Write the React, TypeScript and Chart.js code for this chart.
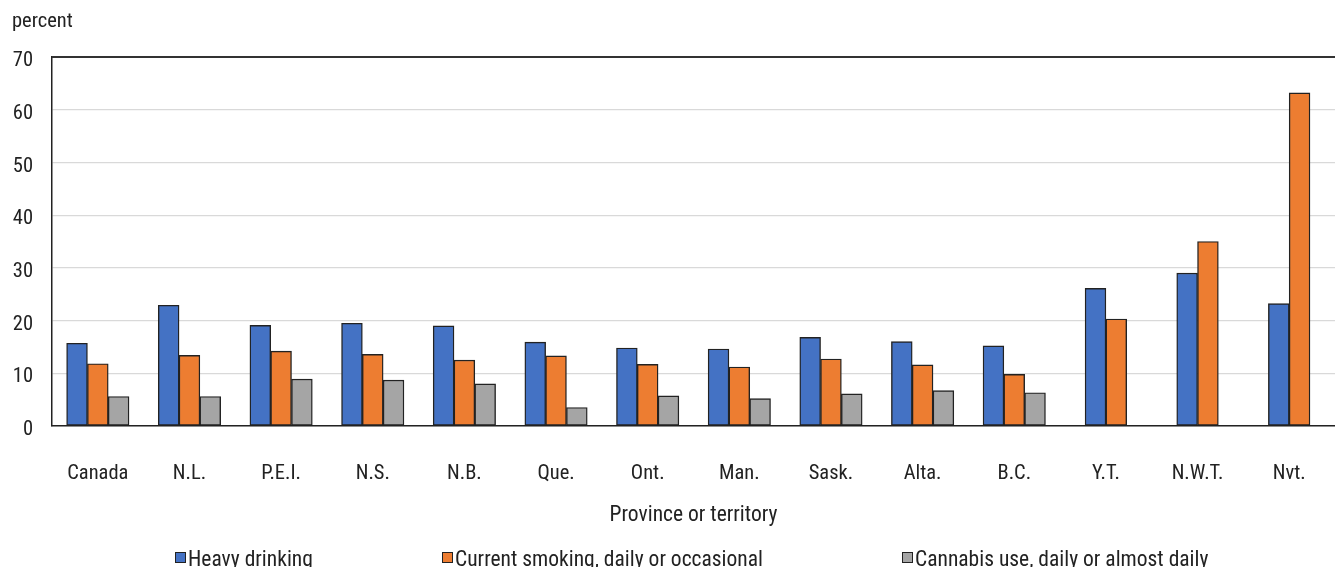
import React, { useEffect, useRef } from "react";
import { Chart, registerables } from "chart.js";

Chart.register(...registerables);

const categories = ["Canada", "N.L.", "P.E.I.", "N.S.", "N.B.", "Que.", "Ont.", "Man.", "Sask.", "Alta.", "B.C.", "Y.T.", "N.W.T.", "Nvt."];
const heavyDrinking = [15.7, 22.9, 19.1, 19.5, 19.0, 15.9, 14.8, 14.6, 16.8, 16.0, 15.2, 26.1, 29.0, 23.2];
const currentSmoking = [11.8, 13.4, 14.2, 13.6, 12.5, 13.3, 11.7, 11.2, 12.7, 11.6, 9.8, 20.3, 35.0, 63.2];
const cannabisUse: (number | null)[] = [5.6, 5.6, 8.9, 8.7, 8.0, 3.5, 5.7, 5.2, 6.1, 6.7, 6.3, null, null, null];
const seriesNames = ["Heavy drinking", "Current smoking, daily or occasional", "Cannabis use, daily or almost daily"];
const seriesColors = ["#4472C4", "#ED7D31", "#A5A5A5"];
const yTicks = [0, 10, 20, 30, 40, 50, 60, 70];
const yAxisUnit = "percent";
const xAxisTitle = "Province or territory";

const FONT = "'Liberation Sans Narrow', 'Roboto Condensed', 'DejaVu Sans Condensed', sans-serif";
const TEXT = "#222222";

const decorPlugin = {
  id: "decor",
  afterDraw(chart: any) {
    const ctx = chart.ctx;
    const area = chart.chartArea;
    ctx.save();
    // top border
    ctx.strokeStyle = "#333333";
    ctx.lineWidth = 2;
    ctx.beginPath();
    ctx.moveTo(area.left, area.top);
    ctx.lineTo(area.right, area.top);
    ctx.stroke();
    ctx.fillStyle = TEXT;
    ctx.font = `20.5px ${FONT}`;
    ctx.textBaseline = "middle";
    ctx.textAlign = "left";
    ctx.fillText(yAxisUnit, 12, 22);
    ctx.font = `21.5px ${FONT}`;
    ctx.textAlign = "center";
    ctx.fillText(xAxisTitle, (area.left + area.right) / 2, 516);
    // legend
    const legendX = [175, 442, 902];
    seriesNames.forEach((name, i) => {
      const x = legendX[i];
      ctx.fillStyle = seriesColors[i];
      ctx.fillRect(x, 552, 10, 10);
      ctx.strokeStyle = "#222222";
      ctx.lineWidth = 1;
      ctx.strokeRect(x + 0.5, 552.5, 10, 10);
      ctx.fillStyle = TEXT;
      ctx.textAlign = "left";
      ctx.fillText(name, x + 13, 561);
    });
    ctx.restore();
  },
};

export default function App() {
  const ref = useRef<HTMLCanvasElement>(null);
  useEffect(() => {
    if (!ref.current) return;
    const chart = new Chart(ref.current, {
      type: "bar",
      data: {
        labels: categories,
        datasets: [heavyDrinking, currentSmoking, cannabisUse].map((d, i) => ({
          label: seriesNames[i],
          data: d,
          backgroundColor: seriesColors[i],
          borderColor: "#222222",
          borderWidth: 1.4,
          borderSkipped: false,
          barThickness: 20.8,
          skipNull: true,
        })) as any,
      },
      options: {
        animation: false,
        responsive: true,
        maintainAspectRatio: false,
        layout: { padding: { top: 57, left: 0, right: 0, bottom: 0 } },
        plugins: { legend: { display: false }, tooltip: { enabled: false } },
        scales: {
          x: {
            grid: { display: false, drawTicks: false },
            border: { display: true, color: "#222222", width: 1.5 },
            ticks: { color: TEXT, font: { family: FONT, size: 20.5 }, padding: 36, maxRotation: 0, autoSkip: false },
            afterFit(scale: any) {
              scale.height = 141;
              scale.paddingLeft = 0;
              scale.paddingRight = 0;
            },
          },
          y: {
            min: 0,
            max: 70,
            afterBuildTicks(scale: any) {
              scale.ticks = yTicks.map((v) => ({ value: v }));
            },
            grid: { color: "#d9d9d9", lineWidth: 1.2, drawTicks: false },
            border: { display: true, color: "#222222", width: 1.5 },
            ticks: { color: TEXT, font: { family: FONT, size: 20.5 }, padding: 19, labelOffset: 4 },
            afterFit(scale: any) {
              scale.width = 52;
              scale.paddingTop = 0;
              scale.paddingBottom = 0;
            },
          },
        },
      },
      plugins: [decorPlugin],
    });
    return () => chart.destroy();
  }, []);
  return (
    <div style={{ position: "fixed", left: 0, top: 0, width: 1335, height: 567, background: "#fff" }}>
      <canvas ref={ref} />
    </div>
  );
}
